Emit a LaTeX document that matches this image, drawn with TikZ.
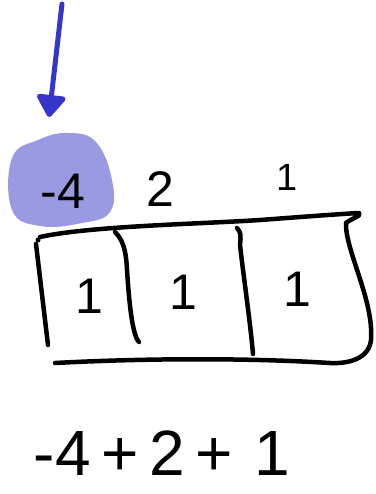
\documentclass[tikz,border=0pt]{standalone}
\usepackage{fontspec}
\setmainfont{Liberation Sans}
\usetikzlibrary{arrows.meta}
\definecolor{penblue}{HTML}{3535CC}
\definecolor{blob}{HTML}{9A9AE2}
\tikzset{
  ink/.style={line width=4.5pt, line cap=round, line join=round, black},
  digit/.style={inner sep=0pt, font=\fontsize{50}{50}\selectfont},
  bigdigit/.style={inner sep=0pt, font=\fontsize{64}{64}\selectfont},
}
\begin{document}
\begin{tikzpicture}[x=1pt,y=-1pt]
\useasboundingbox (0,0) rectangle (375,494);
% highlight blob
\fill[blob] plot[smooth cycle, tension=0.7] coordinates {(12,158) (38,140) (68,133) (96,142) (112,180) (110,212) (82,223) (40,226) (12,210)};
% labels above the bar
\node[digit] (lm4) at (63,191) {-4};
\node[digit] (l2) at (160,189) {2};
\node[digit, font=\fontsize{38}{38}\selectfont] (l1) at (287,177) {1};
% arrow
\coordinate (astart) at (62,4);
\coordinate (aend) at (49,117);
\draw[penblue, line width=5pt, line cap=round, -{Triangle[round, width=32pt, length=24pt]}] (astart) -- (aend);
% bar outline
\draw[ink] (40,237) .. controls (90,226) and (200,224) .. (260,220) .. controls (300,217) and (340,214) .. (359,213) .. controls (362,216) and (352,218) .. (346,223);
\draw[ink] (346,223) .. controls (345,250) and (374,300) .. (371,340) .. controls (369,358) and (350,364) .. (330,363) .. controls (250,358) and (150,358) .. (55,363);
\draw[ink] (36,244) -- (48,345);
\fill (38,240) circle (2.5pt);
\draw[ink] (115,232) .. controls (123,240) and (126,250) .. (127,270) .. controls (129,300) and (132,335) .. (139,342);
\draw[ink] (237,228) .. controls (241,232) and (241,236) .. (240,245) .. controls (244,280) and (250,320) .. (253,354);
% digits inside the bar
\node[digit] (b1) at (89,296) {1};
\node[digit] (b2) at (183,292) {1};
\node[digit] (b3) at (297,289) {1};
% bottom expression
\node[bigdigit] (eq) at (162,453) {-4\,+\,2\,+\,\,1};
\end{tikzpicture}
\end{document}
